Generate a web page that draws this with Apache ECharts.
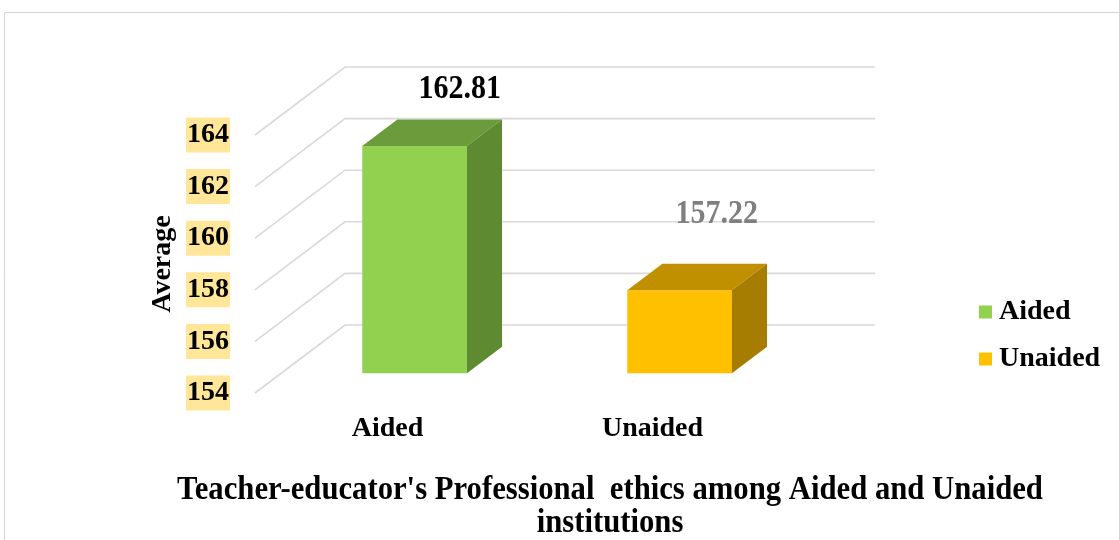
<!DOCTYPE html>
<html>
<head>
<meta charset="utf-8">
<script src="https://cdn.jsdelivr.net/npm/echarts@6/dist/echarts.min.js"></script>
<style>
html,body{margin:0;padding:0;background:#fff;}
#chart{width:1119px;height:540px;}
</style>
</head>
<body>
<div id="chart"></div>
<script>
const categories = ['Aided', 'Unaided'];
const aidedValues = [162.81, null];
const unaidedValues = [null, 157.22];
const yTicks = [154, 156, 158, 160, 162, 164];
const yAxisTitle = 'Average';
const chartTitleLines = ["Teacher-educator's Professional  ethics among Aided and Unaided", 'institutions'];

const FONT = '"Liberation Serif", "Times New Roman", serif';
const DX = 90, DY = 68;          // perspective depth offset of the floor
const D0 = 0.29, D1 = 0.68;      // bar depth range (fraction)
const BAR_FRAC = 0.395;

function barRender(faces, labelColor, labelOffset) {
  return function (params, api) {
    const cat = api.value(0), v = api.value(1);
    if (v == null || isNaN(v)) return null;
    const base = api.coord([cat, yTicks[0]]);
    const top = api.coord([cat, v]);
    const band = api.size([1, 0])[0];
    const w = band * BAR_FRAC;
    const xL = base[0] - w / 2 + DX * D0 + 1;
    const yB = base[1] - DY * D0;
    const yT = top[1] - DY * D0;
    const ddx = DX * (D1 - D0), ddy = DY * (D1 - D0);
    return {
      type: 'group',
      children: [
        { type: 'rect', shape: { x: xL, y: yT, width: w, height: yB - yT }, style: { fill: faces[0] } },
        { type: 'polygon', shape: { points: [[xL, yT], [xL + w, yT], [xL + w + ddx, yT - ddy], [xL + ddx, yT - ddy]] }, style: { fill: faces[1] } },
        { type: 'polygon', shape: { points: [[xL + w, yT], [xL + w + ddx, yT - ddy], [xL + w + ddx, yB - ddy], [xL + w, yB]] }, style: { fill: faces[2] } },
        { type: 'text', x: xL + ddx + w / 2 + labelOffset[0], y: yT - ddy + labelOffset[1], scaleY: 1.1,
          style: { text: v.toFixed(2), font: 'bold 30px ' + FONT, fill: labelColor, align: 'center', verticalAlign: 'middle' } }
      ]
    };
  };
}

const chart = echarts.init(document.getElementById('chart'));
chart.setOption({
  animation: false,
  backgroundColor: '#ffffff',
  grid: { left: 255, right: 334, top: 135, bottom: 147 },
  xAxis: {
    type: 'category', data: categories,
    axisLine: { show: false }, axisTick: { show: false },
    axisLabel: { color: '#000', fontFamily: FONT, fontWeight: 'bold', fontSize: 28, margin: 22 }
  },
  yAxis: {
    type: 'value', min: 154, max: 164, interval: 2,
    name: yAxisTitle, nameLocation: 'middle', nameRotate: 90, nameGap: 78,
    nameTextStyle: { color: '#000', fontFamily: FONT, fontWeight: 'bold', fontSize: 28 },
    axisLine: { show: false }, axisTick: { show: false }, splitLine: { show: false },
    axisLabel: { color: '#000', fontFamily: FONT, fontWeight: 'bold', fontSize: 28, margin: 25,
      backgroundColor: '#FFE699', padding: [5, 1, 2, 1] }
  },
  legend: {
    orient: 'vertical', left: 974, top: 292,
    data: ['Aided', 'Unaided'], icon: 'rect', itemWidth: 13, itemHeight: 13, itemGap: 17,
    textStyle: { color: '#000', fontFamily: FONT, fontWeight: 'bold', fontSize: 28, lineHeight: 30, padding: [0, 0, 0, 2] }
  },
  graphic: [
    { type: 'rect', shape: { x: 4.5, y: 12.5, width: 1300, height: 700 }, style: { fill: null, stroke: '#D4D4D4', lineWidth: 1 }, z: -10 },
    { type: 'text', x: 610, y: 490, scaleY: 1.08, style: { text: chartTitleLines[0], font: 'bold 30.7px ' + FONT, fill: '#000', align: 'center', verticalAlign: 'middle' } },
    { type: 'text', x: 610, y: 523, scaleY: 1.08, style: { text: chartTitleLines[1], font: 'bold 30.7px ' + FONT, fill: '#000', align: 'center', verticalAlign: 'middle' } }
  ],
  series: [
    {
      name: 'walls', type: 'custom', silent: true, z: 1,
      data: yTicks.map(t => [0, t]),
      renderItem: function (params, api) {
        const cs = params.coordSys;
        const y = api.coord([0, api.value(1)])[1];
        return { type: 'polyline', shape: { points: [[cs.x, y], [cs.x + DX, y - DY], [cs.x + cs.width + DX, y - DY]] },
          style: { stroke: '#D9D9D9', lineWidth: 1.6, fill: null } };
      }
    },
    {
      name: 'Aided', type: 'custom', z: 3, itemStyle: { color: '#92D050' },
      data: aidedValues.map((v, i) => [i, v]).filter(d => d[1] != null),
      renderItem: barRender(['#92D050', '#6B9B3A', '#5E8A32'], '#000000', [10, -30])
    },
    {
      name: 'Unaided', type: 'custom', z: 3, itemStyle: { color: '#FFC000' },
      data: unaidedValues.map((v, i) => [i, v]).filter(d => d[1] != null),
      renderItem: barRender(['#FFC000', '#C09000', '#A67D00'], '#7F7F7F', [2, -49])
    }
  ]
});
</script>
</body>
</html>
